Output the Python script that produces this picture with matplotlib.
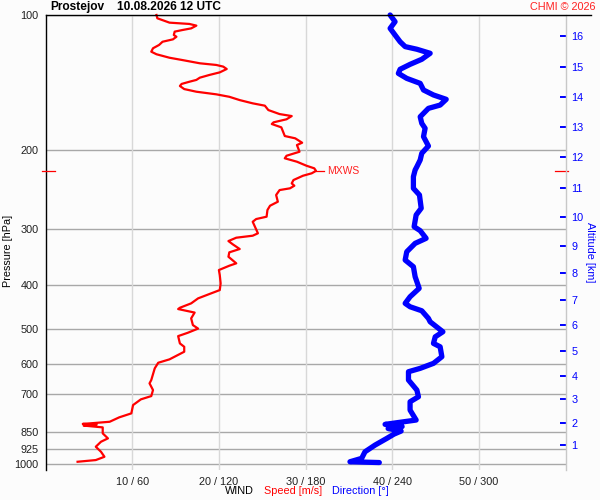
import matplotlib
matplotlib.use("Agg")
import matplotlib.pyplot as plt
from matplotlib.lines import Line2D
from matplotlib.ticker import NullLocator, FixedLocator
import numpy as np

plt.rcParams['font.family'] = ['Liberation Sans', 'DejaVu Sans']

# ---------------- data ----------------
station = "Prostejov"
timestamp = "10.08.2026 12 UTC"

speed_p = [100.0, 101.7, 104.0, 104.7, 105.6, 107.1, 108.0, 108.9, 110.8, 111.8,
           113.3, 114.7, 116.6, 118.6, 120.7, 122.3, 124.5, 126.0, 128.1, 129.2,
           130.3, 131.9, 134.2, 136.0, 137.9, 139.5, 140.8, 142.4, 143.9, 146.2,
           148.2, 150.2, 152.1, 154.7, 157.3, 159.2, 162.8, 166.2, 167.9, 170.7,
           173.4, 174.9, 177.9, 186.0, 188.2, 192.5, 194.8, 201.6, 205.8, 208.5,
           212.2, 216.6, 219.5, 222.4, 225.2, 228.0, 233.1, 237.1, 240.0, 243.2,
           245.4, 251.7, 260.5, 265.9, 271.8, 281.3, 284.7, 288.7, 306.3, 310.1,
           313.3, 318.7, 324.1, 332.0, 337.7, 345.4, 357.3, 361.7, 369.8, 379.4,
           395.9, 409.8, 416.8, 427.6, 438.7, 448.7, 451.7, 459.9, 473.8, 490.4,
           499.3, 510.2, 518.9, 538.7, 548.1, 562.2, 584.6, 594.9, 612.2, 650.0,
           661.2, 684.3, 705.7, 717.7, 739.0, 771.2, 787.1, 805.1, 811.8, 813.9,
           817.1, 821.0, 828.6, 854.4, 876.7, 891.9, 915.1, 939.0, 963.4, 979.8,
           988.3]
speed_ms = [12.8, 12.9, 14.3, 16.6, 17.4, 16.8, 15.8, 14.9, 14.8, 15.1,
            14.7, 13.5, 13.1, 12.4, 12.2, 12.8, 14.3, 15.8, 17.8, 19.7,
            20.5, 20.9, 20.1, 18.9, 17.8, 17.4, 16.6, 15.7, 15.5, 16.0,
            17.4, 19.7, 21.2, 22.4, 23.9, 25.3, 25.7, 27.0, 28.4, 27.8,
            26.3, 26.1, 27.2, 27.6, 28.8, 29.6, 29.0, 29.3, 27.8, 27.6,
            29.0, 30.1, 31.0, 31.2, 30.7, 29.7, 28.6, 28.4, 28.7, 28.2,
            27.0, 26.6, 26.8, 25.9, 25.6, 25.5, 24.3, 23.9, 24.5, 23.9,
            22.0, 21.1, 21.6, 22.4, 21.2, 21.1, 22.0, 21.2, 20.0, 20.1,
            20.2, 20.1, 19.1, 17.6, 16.8, 15.5, 15.3, 17.2, 16.8, 17.0,
            17.6, 16.4, 15.3, 15.5, 16.0, 16.0, 14.3, 13.0, 12.6, 12.2,
            12.0, 12.4, 12.2, 11.0, 10.1, 9.9, 8.5, 7.4, 5.1, 4.3,
            5.9, 4.4, 6.6, 6.6, 7.2, 6.4, 5.8, 6.4, 6.8, 5.8,
            3.7]

dir_p = [100.0, 103.5, 107.1, 110.8, 114.7, 117.6, 119.2, 121.7, 125.5, 128.8,
         132.1, 134.9, 138.4, 142.0, 146.9, 150.7, 154.1, 158.7, 161.4, 168.5,
         174.3, 178.8, 186.6, 195.8, 203.2, 210.3, 217.7, 221.4, 229.1, 243.2,
         251.7, 269.4, 278.8, 296.1, 302.2, 314.3, 322.5, 336.7, 351.3, 363.6,
         382.7, 406.2, 424.1, 438.7, 446.4, 455.7, 473.8, 482.2, 507.5, 520.8,
         538.7, 548.1, 576.8, 596.7, 612.2, 622.9, 650.0, 684.3, 708.2, 726.6,
         758.3, 798.0, 815.9, 825.1, 833.5, 844.4, 857.7, 876.7, 907.2, 939.0,
         971.2, 988.3, 992.4]
dir_deg = [238.5, 241.9, 238.5, 241.9, 245.4, 248.9, 257.0, 266.2, 260.4, 252.3,
           245.4, 244.2, 250.0, 259.3, 261.6, 268.5, 277.3, 273.1, 265.0, 259.3,
           260.4, 262.7, 261.6, 265.0, 260.4, 259.3, 257.0, 255.8, 254.6, 254.6,
           258.8, 260.0, 256.5, 255.1, 259.3, 263.4, 255.8, 250.0, 248.9, 254.6,
           255.8, 258.6, 252.3, 248.9, 252.3, 260.4, 265.0, 266.2, 275.0, 269.7,
           268.5, 273.1, 274.3, 268.5, 259.3, 251.2, 251.2, 257.0, 258.1, 252.3,
           252.3, 256.5, 235.0, 246.8, 237.1, 246.1, 241.2, 236.2, 228.1, 221.1,
           218.8, 210.7, 231.0]

p_ticks = [100, 200, 300, 400, 500, 600, 700, 850, 925, 1000]
speed_ticks = [10, 20, 30, 40, 50]
alt_km = [1, 2, 3, 4, 5, 6, 7, 8, 9, 10, 11, 12, 13, 14, 15, 16]
alt_p = [907.2, 809.1, 717.7, 635.9, 559.4, 490.4, 431.4, 374.9, 326.4,
         281.3, 242.5, 207.4, 177.9, 152.1, 130.3, 111.4]

# ---------------- figure ----------------
W, H = 600, 500
bg = '#fcfcfc'
fig = plt.figure(figsize=(6, 5), dpi=100, facecolor=bg)
L, R, T, B = 45.5, 565.7, 15, 470
ax = fig.add_axes([L / W, 1 - B / H, (R - L) / W, (B - T) / H], facecolor=bg)

ax.set_yscale('log')
ax.set_ylim(1031, 100)
ax.set_xlim(0, 60)

ax.yaxis.set_major_locator(FixedLocator(p_ticks))
ax.yaxis.set_minor_locator(NullLocator())
ax.set_yticklabels([str(p) for p in p_ticks])
ax.set_xticks(speed_ticks)
ax.set_xticklabels([f"{s} / {6 * s}" for s in speed_ticks])
ax.tick_params(axis='both', length=0, labelsize=7.8, colors='#202020')
ax.tick_params(axis='y', pad=5)
ax.tick_params(axis='x', pad=5)

for p in p_ticks:
    ax.axhline(p, color='#a8a8a8', lw=1.0, zorder=1)
for s in speed_ticks:
    ax.axvline(s, color='#d8d8d8', lw=1.0, zorder=1)

for side in ['top', 'bottom', 'right']:
    ax.spines[side].set_visible(False)
ax.spines['left'].set_color('black')
ax.spines['left'].set_linewidth(1.0)

# top black line extending past the right axis
fig.add_artist(Line2D([L / W, 591 / W], [1 - T / H, 1 - T / H], color='black', lw=1.0))

# curves
ax.plot(speed_ms, speed_p, color='#ff0000', lw=1.6, zorder=4, clip_on=False)
ax.plot(np.array(dir_deg) / 6.0, dir_p, color='#0000ff', lw=3.8, zorder=3,
        solid_capstyle='round', solid_joinstyle='round', clip_on=False)

# max wind marker
imax = int(np.argmax(speed_ms))
smax, pmax = speed_ms[imax], speed_p[imax]
ax.plot([smax, smax + 0.95], [pmax, pmax], color='#ff0000', lw=0.9, zorder=4)
ax.text(smax + 1.25, pmax, "MXWS", color='#ff2020', fontsize=7.5, va='center', ha='left')
ax.plot([-0.35, 1.15], [pmax, pmax], color='#ff0000', lw=0.9, clip_on=False, zorder=5)
ax.plot([58.8, 60.25], [pmax, pmax], color='#ff0000', lw=0.9, clip_on=False, zorder=5)

# altitude axis
ax2 = ax.twinx()
ax2.set_yscale('log')
ax2.set_ylim(1031, 100)
ax2.yaxis.set_major_locator(FixedLocator(alt_p))
ax2.yaxis.set_minor_locator(NullLocator())
ax2.set_yticklabels([str(a) for a in alt_km])
ax2.tick_params(axis='y', direction='in', length=4.5, width=1.4, colors='#0000ff',
                labelsize=7.8, pad=4)
for side in ['top', 'bottom', 'left']:
    ax2.spines[side].set_visible(False)
ax2.spines['right'].set_color('#c8c8c8')
ax2.spines['right'].set_linewidth(1.0)

# texts
fig.text(50 / W, 1 - 7 / H, station, fontsize=8.6, fontweight='bold', va='center', ha='left')
fig.text(117 / W, 1 - 7 / H, timestamp, fontsize=8.6, fontweight='bold', va='center', ha='left')
fig.text(596 / W, 1 - 7 / H, "CHMI © 2026", fontsize=7.8, color='#ff2020', va='center', ha='right')
fig.text(8 / W, 1 - 251 / H, "Pressure [hPa]", rotation=90, fontsize=7.8, va='center', ha='center')
fig.text(590 / W, 1 - 252 / H, "Altitude [km]", rotation=-90, fontsize=7.8, color='#0000ff',
         va='center', ha='center')
fig.text(225 / W, 1 - 491 / H, "WIND", fontsize=7.8, va='center', ha='left')
fig.text(264 / W, 1 - 491 / H, "Speed [m/s]", fontsize=7.8, color='#ff0000', va='center', ha='left')
fig.text(332 / W, 1 - 491 / H, "Direction [°]", fontsize=7.8, color='#0000ff', va='center', ha='left')

fig.savefig("out.png", dpi=100, facecolor=bg)
